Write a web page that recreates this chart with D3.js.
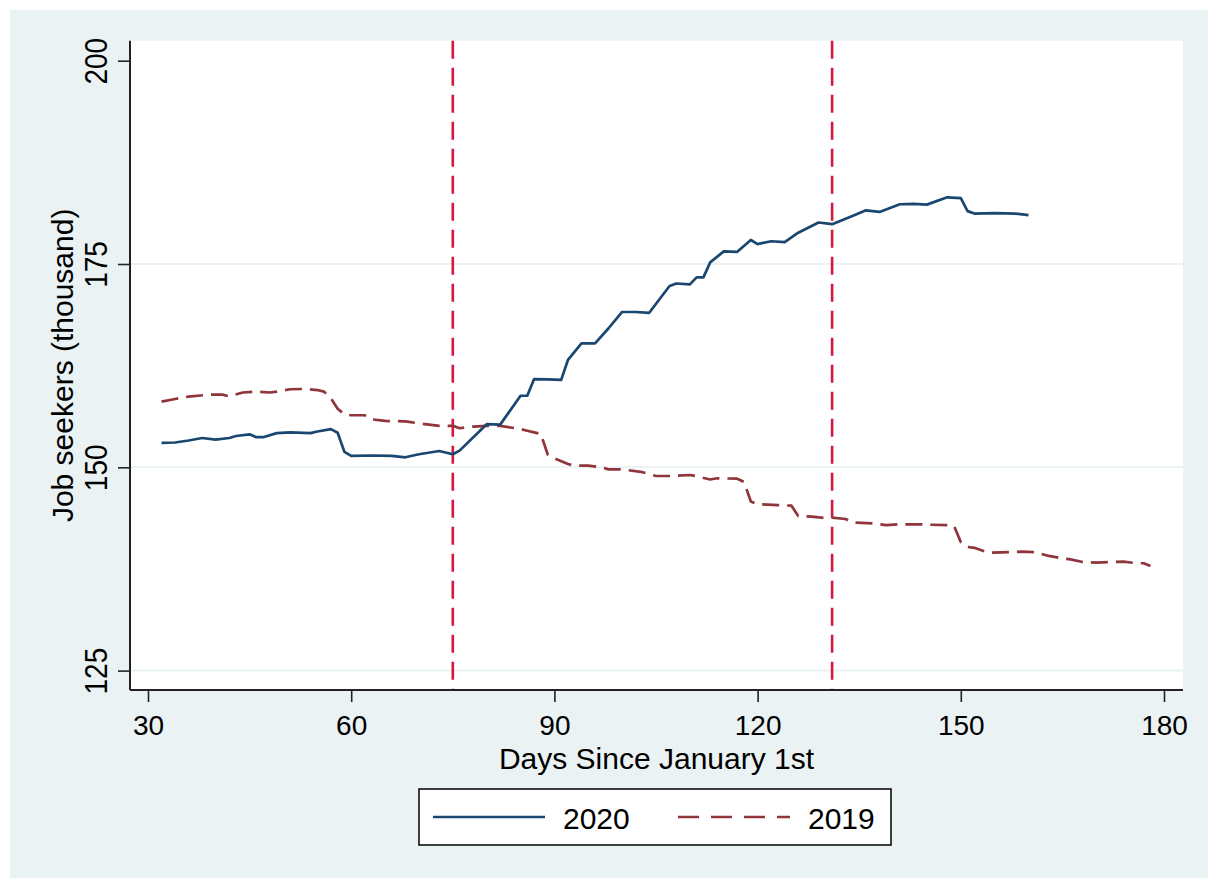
<!DOCTYPE html>
<html>
<head>
<meta charset="utf-8">
<script src="https://cdn.jsdelivr.net/npm/d3@7"></script>
<style>
  html, body { margin: 0; padding: 0; background: #ffffff; }
  svg { display: block; }
  text { font-family: "Liberation Sans", Arial, Helvetica, sans-serif; fill: #000; }
</style>
</head>
<body>
<svg id="chart" width="1208" height="878"></svg>
<script>
// Job seekers (thousand) by day of year, 2020 vs 2019
const days2020 = [32, 34, 36, 38, 40, 42, 43, 45, 46, 47, 49, 51, 54, 55, 57, 58, 59, 60, 63, 66, 68, 70, 73, 75,
  76, 80, 82, 85, 86, 87, 89, 91, 92, 94, 96, 98, 100, 102, 104, 107, 108, 110, 111, 112, 113, 115, 117,
  119, 120, 122, 124, 126, 129, 131, 134, 136, 138, 141, 143, 145, 148, 150, 151, 152, 155, 158, 160];
const seekers2020 = [153.0, 153.05, 153.3, 153.6, 153.4, 153.6, 153.85, 154.05, 153.7, 153.7, 154.2, 154.3, 154.2, 154.4, 154.7, 154.25, 151.9, 151.4, 151.45, 151.4, 151.23, 151.6, 152.0, 151.6,
  152.05, 155.3, 155.25, 158.8, 158.8, 160.85, 160.8, 160.75, 163.2, 165.25, 165.25, 167.1, 169.1, 169.1, 169.0, 172.3, 172.6, 172.5, 173.35, 173.35, 175.2, 176.55, 176.5,
  177.95, 177.45, 177.8, 177.7, 178.85, 180.1, 179.9, 180.9, 181.6, 181.4, 182.35, 182.4, 182.3, 183.2, 183.1, 181.5, 181.2, 181.25, 181.2, 181.0];

const days2019 = [32, 34, 36, 39, 41, 42, 44, 46, 48, 49, 51, 53, 55, 56, 57, 58, 59, 60, 62, 63, 65, 68, 70, 73, 75,
  76, 78, 80, 82, 85, 86, 87, 88, 89, 90, 92, 93, 95, 97, 98, 100, 103, 105, 107, 110, 111, 113, 114, 117,
  118, 119, 120, 123, 125, 126, 128, 130, 131, 133, 134, 137, 139, 141, 144, 145, 148, 149, 150, 151, 152,
  154, 156, 159, 161, 163, 165, 166, 168, 170, 172, 174, 176, 177, 178];
const seekers2019 = [158.07, 158.4, 158.7, 158.93, 158.93, 158.73, 159.2, 159.3, 159.2, 159.3, 159.6, 159.63, 159.5, 159.3, 158.5, 157.2, 156.5, 156.4, 156.4, 155.9, 155.7, 155.65, 155.4, 155.1, 155.1,
  154.8, 155.0, 155.1, 155.1, 154.7, 154.5, 154.3, 154.1, 151.6, 151.1, 150.4, 150.2, 150.2, 150.0, 149.75, 149.75, 149.4, 148.93, 148.93, 149.05, 148.9, 148.5, 148.65, 148.6,
  148.2, 145.8, 145.45, 145.36, 145.28, 144.0, 143.93, 143.75, 143.8, 143.64, 143.2, 143.1, 142.9, 142.99, 142.99, 142.94, 142.9, 142.8, 140.8, 140.2, 140.1,
  139.5, 139.55, 139.62, 139.55, 139.1, 138.8, 138.7, 138.35, 138.27, 138.36, 138.4, 138.2, 138.2, 137.86];

const xTicks = [30, 60, 90, 120, 150, 180];
const yTicks = [125, 150, 175, 200];
const gridTicks = [125, 150, 175];
const markerDays = [75, 131];
const seriesNames = ["2020", "2019"];

const xTitle = "Days Since January 1st";
const yTitle = "Job seekers (thousand)";

// ---- layout ----
const W = 1208, H = 878;
const plot = { left: 130, right: 1183, top: 40.7, bottom: 690 };
const NAVY = "#1a476f", MAROON = "#90353b", REF = "#d6173f", BG = "#eaf2f3";
const TICK_FONT = 28, TITLE_FONT = 30;

const svg = d3.select("#chart");

// graph region background
svg.append("rect").attr("x", 10).attr("y", 10).attr("width", W - 10).attr("height", H - 10).attr("fill", BG);
// plot region
svg.append("rect").attr("x", plot.left).attr("y", plot.top)
  .attr("width", plot.right - plot.left).attr("height", plot.bottom - plot.top).attr("fill", "#ffffff");

const x = d3.scaleLinear().domain([30, 180]).range([148, 1164]);
const y = d3.scaleLinear().domain([125, 200]).range([670.6, 60.7]);

// horizontal grid lines
svg.append("g").selectAll("line").data(gridTicks).join("line")
  .attr("x1", plot.left).attr("x2", plot.right)
  .attr("y1", d => y(d)).attr("y2", d => y(d))
  .attr("stroke", BG).attr("stroke-width", 2);

// vertical reference lines
svg.append("g").selectAll("line").data(markerDays).join("line")
  .attr("x1", d => x(d)).attr("x2", d => x(d))
  .attr("y1", plot.top).attr("y2", plot.bottom)
  .attr("stroke", REF).attr("stroke-width", 2.6).attr("stroke-dasharray", "18 9");

// series lines
const line = d3.line().x(d => x(d[0])).y(d => y(d[1]));
const s2019 = days2019.map((d, i) => [d, seekers2019[i]]);
const s2020 = days2020.map((d, i) => [d, seekers2020[i]]);

svg.append("path").datum(s2019).attr("d", line)
  .attr("fill", "none").attr("stroke", MAROON).attr("stroke-width", 2.7)
  .attr("stroke-dasharray", "17 8").attr("stroke-linejoin", "round");
svg.append("path").datum(s2020).attr("d", line)
  .attr("fill", "none").attr("stroke", NAVY).attr("stroke-width", 2.7)
  .attr("stroke-linejoin", "round");

// axes
const xAxis = svg.append("g").attr("transform", `translate(0,${plot.bottom})`)
  .call(d3.axisBottom(x).tickValues(xTicks).tickSize(12).tickPadding(8).tickSizeOuter(0));
xAxis.select(".domain").attr("d", `M${plot.left},0H${plot.right}`);
const yAxis = svg.append("g").attr("transform", `translate(${plot.left},0)`)
  .call(d3.axisLeft(y).tickValues(yTicks).tickSize(12).tickSizeOuter(0));
yAxis.select(".domain").attr("d", `M0,${plot.top}V${plot.bottom}`);

[xAxis, yAxis].forEach(g => {
  g.select(".domain").attr("stroke", "#222").attr("stroke-width", 2);
  g.selectAll(".tick line").attr("stroke", "#222").attr("stroke-width", 1.6);
  g.selectAll(".tick text").attr("font-size", TICK_FONT)
    .attr("font-family", "'Liberation Sans', Arial, sans-serif").attr("fill", "#000");
});
xAxis.selectAll(".tick text").attr("dy", null).attr("y", 45);
yAxis.selectAll(".tick text")
  .attr("x", null).attr("dy", null)
  .attr("text-anchor", "middle")
  .attr("transform", "translate(-23,0) rotate(-90) scale(1,1.15)")
  .attr("y", 0);

// axis titles
svg.append("text").attr("x", (plot.left + plot.right) / 2).attr("y", 769)
  .attr("text-anchor", "middle").attr("font-size", TITLE_FONT).text(xTitle);
svg.append("text")
  .attr("transform", `translate(73,${(plot.top + plot.bottom) / 2}) rotate(-90)`)
  .attr("text-anchor", "middle").attr("font-size", TITLE_FONT).text(yTitle);

// legend
const lg = svg.append("g");
lg.append("rect").attr("x", 419).attr("y", 789).attr("width", 472).attr("height", 56)
  .attr("fill", "#fff").attr("stroke", "#000").attr("stroke-width", 1.5);
const legendItems = [
  { name: seriesNames[0], color: NAVY, dash: null, x0: 433, tx: 563 },
  { name: seriesNames[1], color: MAROON, dash: "21 12", x0: 678, tx: 808 }
];
legendItems.forEach(it => {
  lg.append("line").attr("x1", it.x0).attr("x2", it.x0 + 112).attr("y1", 817).attr("y2", 817)
    .attr("stroke", it.color).attr("stroke-width", 2.7).attr("stroke-dasharray", it.dash);
  lg.append("text").attr("x", it.tx).attr("y", 829).attr("font-size", TITLE_FONT).text(it.name);
});
</script>
</body>
</html>
